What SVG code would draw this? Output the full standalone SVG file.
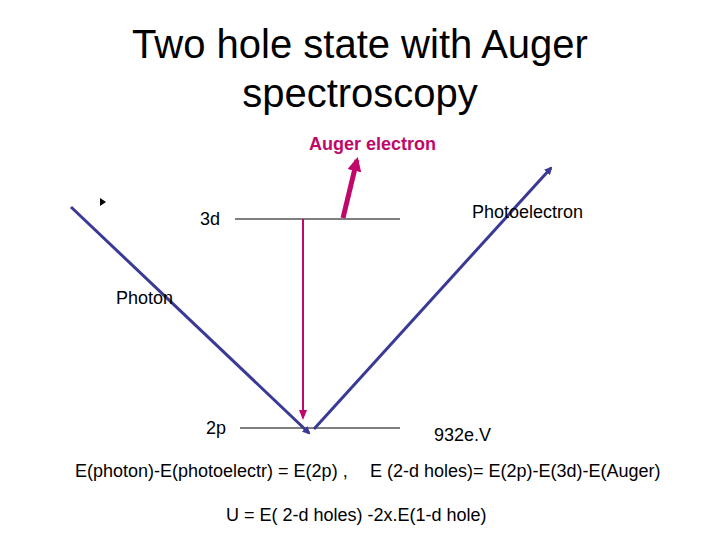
<svg xmlns="http://www.w3.org/2000/svg" width="720" height="540" viewBox="0 0 720 540">
<style>
text{font-family:"Liberation Sans",Arial,sans-serif;fill:#000}
.t{font-size:40px;text-anchor:middle}
.l{font-size:18px}
.lvl{stroke:#000;stroke-width:1}
.blue{stroke:#3a3a96;stroke-width:3;fill:none}
</style>
<defs>
<marker id="ab" markerWidth="8" markerHeight="8" refX="6" refY="4" orient="auto" markerUnits="userSpaceOnUse"><path d="M0,0L8,4L0,8z" fill="#3a3a96"/></marker>
<marker id="am" markerWidth="10" markerHeight="10" refX="8" refY="5" orient="auto" markerUnits="userSpaceOnUse"><path d="M0,1L10,5L0,9z" fill="#c0086a"/></marker>
<marker id="am2" markerWidth="14" markerHeight="14" refX="11" refY="7" orient="auto" markerUnits="userSpaceOnUse"><path d="M0,0L14,7L0,14z" fill="#c0086a"/></marker>
</defs>
<rect width="720" height="540" fill="#fff"/>
<g id="title"><text class="t" x="360" y="58">Two hole state with Auger</text><text class="t" x="360" y="107">spectroscopy</text></g>
<g id="level3d"><line class="lvl" x1="235" y1="219" x2="400" y2="219"/><text class="l" x="200" y="225">3d</text></g>
<g id="level2p"><line class="lvl" x1="240" y1="428" x2="400" y2="428"/><text class="l" x="206" y="434">2p</text><text class="l" x="434" y="441">932e.V</text></g>
<g id="connectors">
<path d="M100,198L106,202L100,206z" fill="#000"/>
<line class="blue" x1="71" y1="207" x2="309" y2="433" marker-end="url(#ab)"/>
<line class="blue" x1="314" y1="429" x2="551" y2="168" marker-end="url(#ab)"/>
<line x1="303" y1="219" x2="303" y2="418" stroke="#c0086a" stroke-width="2" marker-end="url(#am)"/>
<line x1="343" y1="218" x2="357" y2="160" stroke="#c0086a" stroke-width="5" marker-end="url(#am2)"/>
</g>
<g id="labels">
<text class="l" x="309" y="150" font-size="17" font-weight="bold" style="fill:#c0086a">Auger electron</text>
<text class="l" x="472" y="218">Photoelectron</text>
<text class="l" x="116" y="304">Photon</text>
<text class="l" x="75" y="477">E(photon)-E(photoelectr) = E(2p)  ,</text>
<text class="l" x="370" y="477">E (2-d holes)= E(2p)-E(3d)-E(Auger)</text>
<text class="l" x="226" y="521">U = E( 2-d holes) -2x.E(1-d hole)</text>
</g>
</svg>
